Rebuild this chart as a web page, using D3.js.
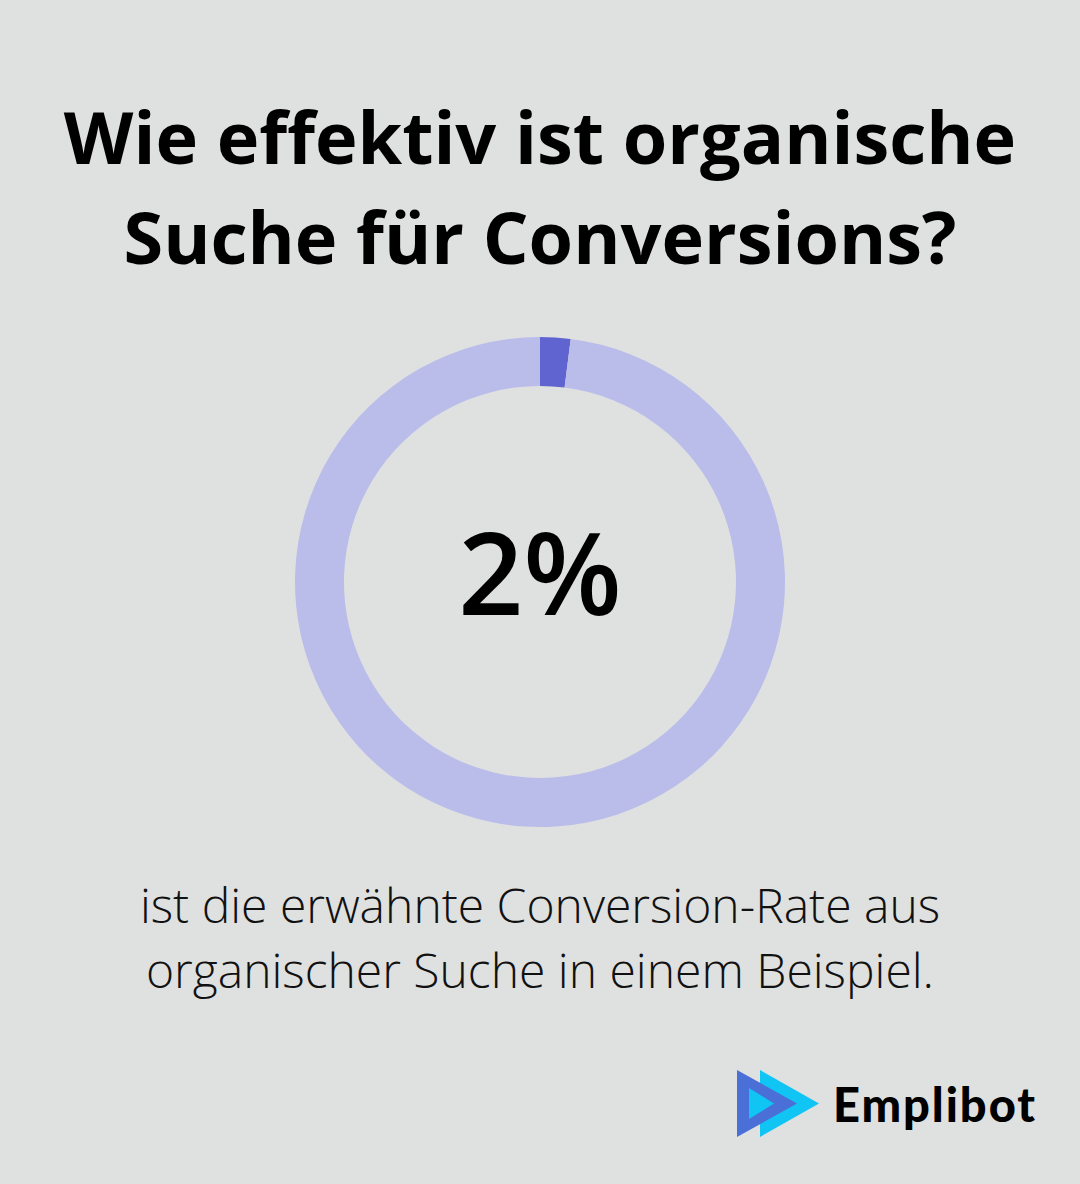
<!DOCTYPE html>
<html><head><meta charset="utf-8">
<script src="https://cdn.jsdelivr.net/npm/d3@7"></script>
<style>html,body{margin:0;padding:0;background:#dfe1e0;}svg{display:block;}</style>
</head><body>
<svg id="c" width="1080" height="1184"></svg>
<script>
const titleLines = ["Wie effektiv ist organische", "Suche für Conversions?"];
const shareLabels = ["Conversion", "Rest"];
const shareValues = [2, 98];
const centerLabel = "2%";
const captionLines = ["ist die erwähnte Conversion-Rate aus", "organischer Suche in einem Beispiel."];
const brandName = "Emplibot";

const svg = d3.select("#c");
svg.append("rect").attr("width",1080).attr("height",1184).attr("fill","#dfe1e0");

svg.append("g").selectAll("text").data(titleLines).join("text")
  .attr("x",540).attr("y",(d,i)=>164+i*100)
  .attr("text-anchor","middle")
  .attr("font-family","'Open Sans', sans-serif").attr("font-weight",700)
  .attr("font-size",72).attr("fill","#000")
  .text(d=>d);

const cx=540, cy=582;
const pie = d3.pie().sort(null).value(d=>d);
const arc = d3.arc().innerRadius(196).outerRadius(245);
const color = d3.scaleOrdinal().domain([0,1]).range(["#6064d0","#babdea"]);
svg.append("g").attr("transform",`translate(${cx},${cy})`)
  .selectAll("path").data(pie(shareValues)).join("path")
  .attr("d",arc).attr("fill",(d,i)=>color(i));

svg.append("text").attr("x",cx).attr("y",cy+33)
  .attr("text-anchor","middle")
  .attr("font-family","'Open Sans', sans-serif").attr("font-weight",600)
  .attr("font-size",114).attr("fill","#000")
  .text(centerLabel);

svg.append("g").selectAll("text").data(captionLines).join("text")
  .attr("x",540).attr("y",(d,i)=>923+i*65)
  .attr("text-anchor","middle")
  .attr("font-family","'Open Sans', sans-serif").attr("font-weight",300)
  .attr("font-size",48).attr("fill","#111")
  .text(d=>d);

// logo
const logo = svg.append("g");
logo.append("path").attr("d","M760,1070 L819,1103.5 L760,1137 Z").attr("fill","#10c4f4");
logo.append("path").attr("d","M737,1070 L797,1103.5 L737,1137 Z").attr("fill","#4a6fd6");
logo.append("path").attr("d","M749,1088 L774,1103.5 L749,1119 Z").attr("fill","#10c4f4");
logo.append("text").attr("x",833).attr("y",1122)
  .attr("font-family","Lato, 'Open Sans', sans-serif").attr("font-weight",900)
  .attr("font-size",47).attr("textLength",202).attr("lengthAdjust","spacing")
  .attr("fill","#000").text(brandName);
</script>
</body></html>
